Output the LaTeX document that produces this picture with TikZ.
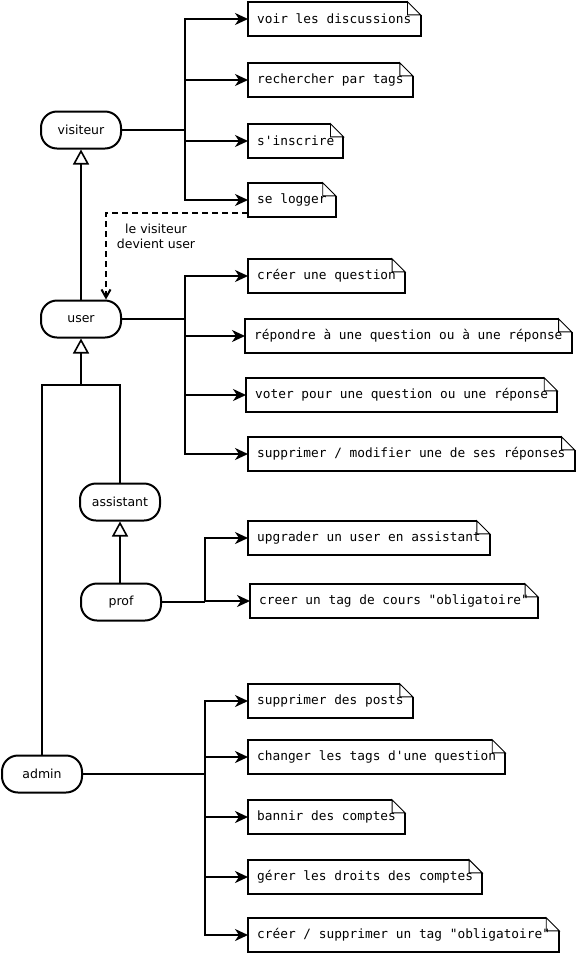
\documentclass[tikz,border=0pt]{standalone}
\usepackage{fontspec}
\setmainfont{DejaVu Sans}
\setmonofont{DejaVu Sans Mono}
\usetikzlibrary{arrows.meta,positioning}

\begin{document}
\begin{tikzpicture}[
    x=1pt, y=-1pt,
    % --- Styles ---
    actor node/.style={draw, line width=2pt, rounded corners=16pt,
        minimum width=80pt, minimum height=37pt, font=\fontsize{12.5}{14}\selectfont},
    % notes are placed by their left edge, outline drawn afterwards
    note node/.style={anchor=west, minimum height=34pt, inner xsep=9pt,
        font=\ttfamily\fontsize{12.8}{15}\selectfont},
    note line/.style={line width=2pt, line join=miter},
    fold line/.style={line width=0.9pt},
    link line/.style={line width=2pt, line join=miter},
    arrow line/.style={link line, -{Stealth[length=13pt, width=12pt, inset=4pt]}},
    inherit line/.style={link line, -{Triangle[open, length=15pt, width=16pt, line width=1.6pt]}},
    becomes line/.style={link line, dash pattern=on 6pt off 4pt,
        -{Straight Barb[length=8pt, width=9pt]}},
    label node/.style={align=center, font=\fontsize{12.5}{15}\selectfont}
]

%================CONFIGURATION================
\def\fold{13}
\def\notex{248}
%=============================================

\useasboundingbox (0,0) rectangle (577,954);

% --- Actors ---
\node[actor node] (visiteur) at (81,130) {visiteur};
\node[actor node] (user) at (81,319) {user};
\node[actor node] (assistant) at (120,502) {assistant};
\node[actor node] (prof) at (121,602) {prof};
\node[actor node] (admin) at (42,774) {admin};

% --- Notes of visiteur ---
\node[note node] (voir) at (\notex,19) {voir les discussions};
\node[note node] (cherche) at (\notex,80) {rechercher par tags};
\node[note node] (inscrire) at (\notex,141) {s'inscrire};
\node[note node] (logger) at (\notex,200) {se logger};

% --- Notes of user ---
\node[note node] (creerq) at (\notex,276) {créer une question};
\node[note node] (repondre) at (\notex-3,336) {répondre à une question ou à une réponse};
\node[note node] (voter) at (\notex-2,395) {voter pour une question ou une réponse};
\node[note node] (modifier) at (\notex,454) {supprimer / modifier une de ses réponses};

% --- Notes of prof ---
\node[note node] (upgrader) at (\notex,538) {upgrader un user en assistant};
\node[note node] (creertag) at (\notex+2,601) {creer un tag de cours "obligatoire"};

% --- Notes of admin ---
\node[note node] (posts) at (\notex,701) {supprimer des posts};
\node[note node] (tags) at (\notex,757) {changer les tags d'une question};
\node[note node] (bannir) at (\notex,817) {bannir des comptes};
\node[note node] (droits) at (\notex,877) {gérer les droits des comptes};
\node[note node] (suppr) at (\notex,935) {créer / supprimer un tag "obligatoire"};

% Note outlines with folded corner
\foreach \n in {voir,cherche,inscrire,logger,creerq,repondre,voter,modifier,
                upgrader,creertag,posts,tags,bannir,droits,suppr} {
    \draw[note line] ([xshift=-\fold pt]\n.north east) -- (\n.north west)
        -- (\n.south west) -- (\n.south east) -- ([yshift=-\fold pt]\n.north east);
    \draw[fold line] ([xshift=-\fold pt]\n.north east) -- ([yshift=-\fold pt]\n.north east)
        -- ([xshift=-\fold pt, yshift=-\fold pt]\n.north east) -- cycle;
}

% --- Buses and arrows ---
\coordinate (vbus) at (185,130);
\coordinate (ubus) at (185,319);
\coordinate (pbus) at (205,602);
\coordinate (abus) at (205,774);

\draw[link line] (visiteur) -- (vbus);
\foreach \n in {voir,cherche,inscrire,logger}
    \draw[arrow line] (vbus) |- (\n.west);

\draw[link line] (user) -- (ubus);
\foreach \n in {creerq,repondre,voter,modifier}
    \draw[arrow line] (ubus) |- (\n.west);

\draw[link line] (prof) -- (pbus);
\foreach \n in {upgrader,creertag}
    \draw[arrow line] (pbus) |- (\n.west);

\draw[link line] (admin) -- (abus);
\foreach \n in {posts,tags,bannir,droits,suppr}
    \draw[arrow line] (abus) |- (\n.west);

% --- Inheritance ---
\draw[inherit line] (user.north) -- (visiteur.south);
\coordinate (split) at (81,385);
\draw[link line] (admin.north) |- (split) -| (assistant.north);
\draw[inherit line] (split) -- (user.south);
\draw[inherit line] (prof.north -| assistant.south) -- (assistant.south);

% --- visiteur becomes user ---
\draw[becomes line] ([yshift=4pt]logger.south west) -| ([xshift=25pt]user.north);
\node[label node] (becomes) at (156,236) {le visiteur\\devient user};

\end{tikzpicture}
\end{document}
